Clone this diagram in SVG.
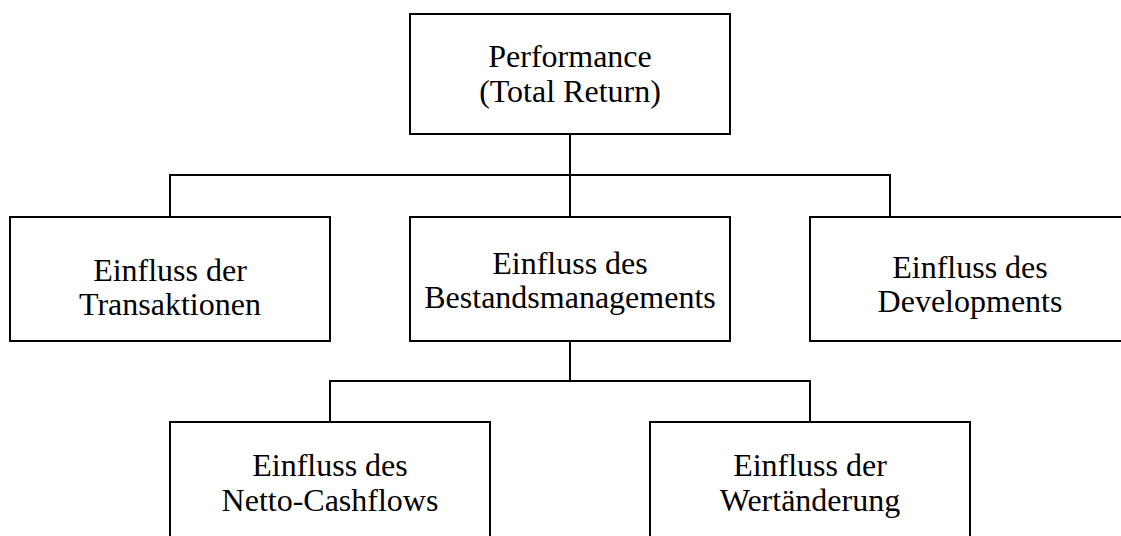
<svg xmlns="http://www.w3.org/2000/svg" width="1121" height="536" viewBox="0 0 1121 536">
<style>
.box{fill:#fff;stroke:#000;stroke-width:2}
.con{fill:none;stroke:#000;stroke-width:2}
text{font-family:"Liberation Serif","Times New Roman",serif;font-size:32px;fill:#000;text-anchor:middle}
</style>
<rect width="1121" height="536" fill="#fff"/>
<g id="connectors">
<path class="con" d="M570 134V217M170 217V175H890V217"/>
<path class="con" d="M570 341V381M330 422V381H810V422"/>
</g>
<g id="n-performance">
<rect class="box" x="410" y="14" width="320" height="120"/>
<text x="570" y="67">Performance</text>
<text x="570" y="102">(Total Return)</text>
</g>
<g id="n-transaktionen">
<rect class="box" x="10" y="217" width="320" height="124"/>
<text x="170" y="281">Einfluss der</text>
<text x="170" y="315">Transaktionen</text>
</g>
<g id="n-bestand">
<rect class="box" x="410" y="217" width="320" height="124"/>
<text x="570" y="274">Einfluss des</text>
<text x="570" y="308">Bestandsmanagements</text>
</g>
<g id="n-development">
<rect class="box" x="810" y="217" width="320" height="124"/>
<text x="970" y="278">Einfluss des</text>
<text x="970" y="312">Developments</text>
</g>
<g id="n-netto">
<rect class="box" x="170" y="422" width="320" height="130"/>
<text x="330" y="476">Einfluss des</text>
<text x="330" y="511">Netto-Cashflows</text>
</g>
<g id="n-wert">
<rect class="box" x="650" y="422" width="320" height="130"/>
<text x="810" y="476">Einfluss der</text>
<text x="810" y="511">Wertänderung</text>
</g>
</svg>
